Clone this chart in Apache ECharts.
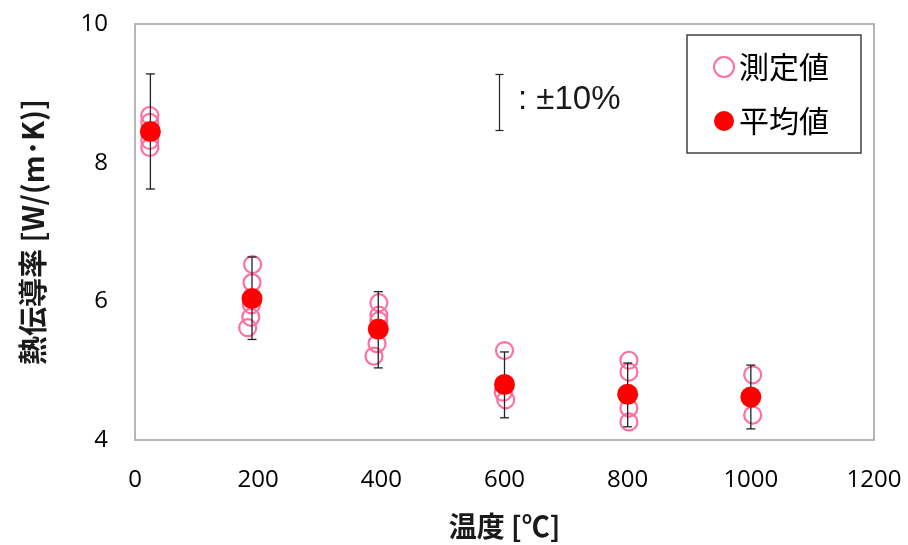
<!DOCTYPE html>
<html>
<head>
<meta charset="utf-8">
<script src="https://cdn.jsdelivr.net/npm/echarts@6/dist/echarts.min.js"></script>
<style>
  html, body { margin: 0; padding: 0; background: #fff; }
  #chart { width: 908px; height: 545px; }
</style>
</head>
<body>
<div id="chart"></div>
<script>
// 温度 [℃]
const temps = [25, 190, 395, 600, 800, 1000]
// 平均値
const means = [8.45, 6.04, 5.60, 4.80, 4.66, 4.62]
// ±10% error bar ends
const errHigh = [9.28, 6.64, 6.14, 5.27, 5.11, 5.08]
const errLow = [7.62, 5.45, 5.04, 4.32, 4.19, 4.16]
// 測定値 (individual measurements)
const measuredX = [24, 24, 24, 24, 24,
  191, 190, 189, 188, 183,
  396, 396, 396, 393, 388,
  600, 598, 602,
  802, 802, 802, 802,
  1003, 1003]
const measuredY = [8.68, 8.58, 8.45, 8.32, 8.22,
  6.53, 6.27, 5.95, 5.77, 5.62,
  5.98, 5.80, 5.72, 5.39, 5.21,
  5.29, 4.69, 4.58,
  5.15, 4.98, 4.46, 4.26,
  4.94, 4.36]
const xTicks = { min: 0, max: 1200, interval: 200 }
const yTicks = { min: 4, max: 10, interval: 2 }

const pink = '#ff6f9f'
const jp = '"Noto Sans CJK JP", "Noto Sans", sans-serif'
const num = '"Open Sans", "Noto Sans", sans-serif'

const chart = echarts.init(document.getElementById('chart'))

const option = {
  animation: false,
  backgroundColor: '#fff',
  grid: {
    left: 135, right: 34, top: 24, bottom: 105,
    show: true,
    borderColor: '#a0a0a0',
    borderWidth: 1.5
  },
  legend: {
    orient: 'vertical',
    left: 687,
    top: 35,
    width: 174,
    padding: [17, 32, 17, 26],
    itemGap: 24,
    itemWidth: 20,
    itemHeight: 20,
    borderColor: '#404040',
    borderWidth: 1.5,
    data: ['測定値', '平均値'],
    textStyle: { fontFamily: jp, fontSize: 30, color: '#000' }
  },
  xAxis: {
    type: 'value',
    ...xTicks,
    name: '温度 [℃]',
    nameLocation: 'middle',
    nameGap: 72,
    nameTextStyle: { fontFamily: jp, fontSize: 28, fontWeight: 'bold', color: '#1a1a1a' },
    axisLine: { show: false },
    axisTick: { show: false },
    splitLine: { show: false },
    axisLabel: { margin: 28, fontFamily: num, fontSize: 24, color: '#000', formatter: v => String(v) }
  },
  yAxis: {
    type: 'value',
    ...yTicks,
    name: '熱伝導率 [W/(m･K)]',
    nameLocation: 'middle',
    nameGap: 88,
    nameTextStyle: { fontFamily: jp, fontSize: 29, fontWeight: 'bold', color: '#1a1a1a' },
    axisLine: { show: false },
    axisTick: { show: false },
    splitLine: { show: false },
    axisLabel: { margin: 27, fontFamily: num, fontSize: 24, color: '#000', formatter: v => String(v) }
  },
  graphic: [
    {
      type: 'group',
      left: 493,
      top: 72,
      children: [
        { type: 'line', shape: { x1: 4, y1: 0, x2: 4, y2: 56 }, style: { stroke: '#222', lineWidth: 1.2 } },
        { type: 'line', shape: { x1: 0, y1: 0, x2: 8, y2: 0 }, style: { stroke: '#222', lineWidth: 1.2 } },
        { type: 'line', shape: { x1: 0, y1: 56, x2: 8, y2: 56 }, style: { stroke: '#222', lineWidth: 1.2 } }
      ]
    },
    {
      type: 'text',
      left: 518,
      top: 83,
      style: { text: ': ±10%', font: '33px "Liberation Sans", sans-serif', fill: '#1a1a1a' }
    }
  ],
  series: [
    {
      name: '測定値',
      type: 'scatter',
      symbol: 'circle',
      symbolSize: 17,
      z: 1,
      itemStyle: { color: 'rgba(255,255,255,0)', borderColor: pink, borderWidth: 2.2, opacity: 1 },
      data: measuredX.map((x, i) => [x, measuredY[i]])
    },
    {
      name: 'error',
      type: 'custom',
      z: 2,
      renderItem: (params, api) => {
        const x = api.value(0)
        const top = api.coord([x, api.value(1)])
        const bot = api.coord([x, api.value(2)])
        const s = { stroke: '#222', lineWidth: 1.3 }
        return {
          type: 'group',
          children: [
            { type: 'line', shape: { x1: top[0], y1: top[1], x2: bot[0], y2: bot[1] }, style: s },
            { type: 'line', shape: { x1: top[0] - 4.5, y1: top[1], x2: top[0] + 4.5, y2: top[1] }, style: s },
            { type: 'line', shape: { x1: bot[0] - 4.5, y1: bot[1], x2: bot[0] + 4.5, y2: bot[1] }, style: s }
          ]
        }
      },
      encode: { x: 0, y: [1, 2] },
      data: temps.map((t, i) => [t, errHigh[i], errLow[i]])
    },
    {
      name: '平均値',
      type: 'scatter',
      symbol: 'circle',
      symbolSize: 21,
      z: 3,
      itemStyle: { color: '#ff0000', opacity: 1 },
      data: temps.map((t, i) => [t, means[i]])
    }
  ]
}

chart.setOption(option)
</script>
</body>
</html>
